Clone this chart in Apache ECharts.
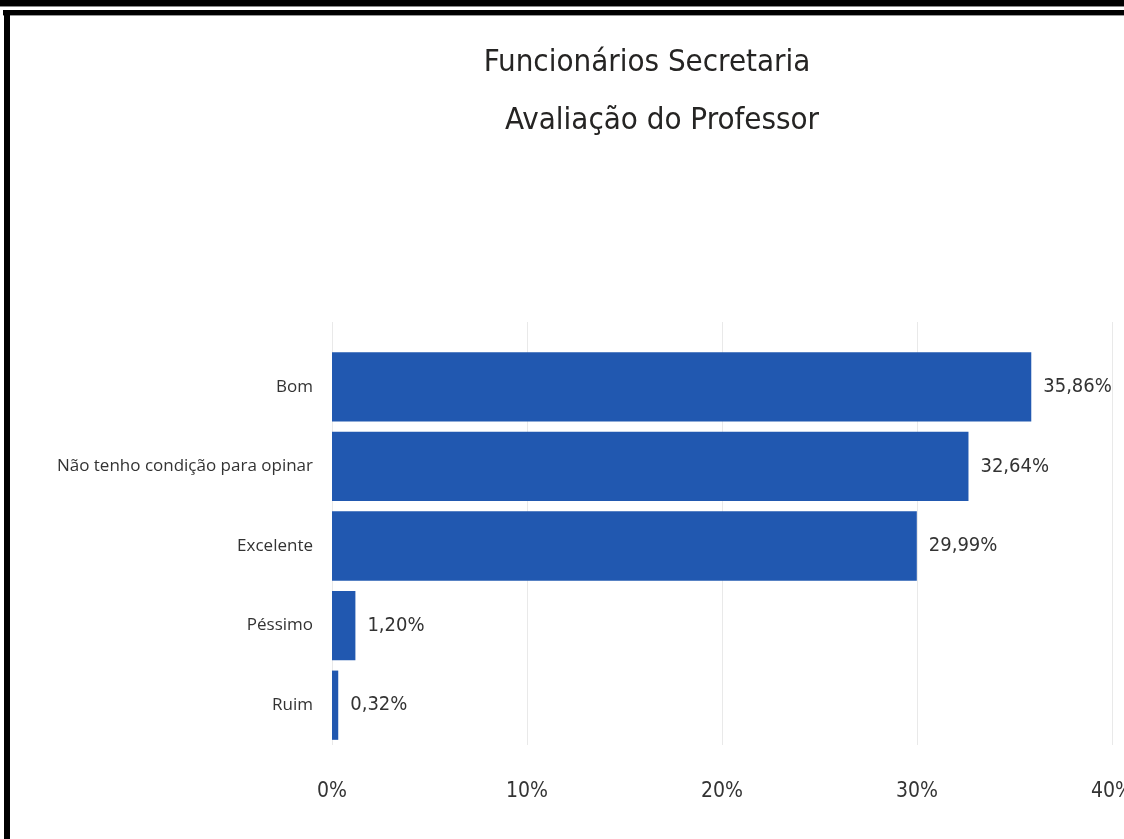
<!DOCTYPE html>
<html><head><meta charset="utf-8">
<script src="https://cdn.jsdelivr.net/npm/echarts@6/dist/echarts.min.js"></script>
<style>
html,body{margin:0;padding:0;background:#fff;}
#c{position:absolute;left:0;top:0;width:1124px;height:839px;}
.b{position:absolute;background:#000;}
</style></head><body>
<div id="c"></div>
<div class="b" style="left:0;top:0;width:1124px;height:6px;"></div>
<div class="b" style="left:0;top:6px;width:1124px;height:1px;background:#888;"></div>
<div class="b" style="left:3px;top:10px;width:1121px;height:5px;"></div>
<div class="b" style="left:3px;top:15px;width:1121px;height:1px;background:#999;"></div>
<div class="b" style="left:4px;top:10px;width:6px;height:829px;"></div>
<script>
const categories = ['Bom', 'Não tenho condição para opinar', 'Excelente', 'Péssimo', 'Ruim'];
const values = [35.86, 32.64, 29.99, 1.20, 0.32];
const titles = ['Funcionários Secretaria', 'Avaliação do Professor'];

const chart = echarts.init(document.getElementById('c'));
chart.setOption({
  backgroundColor: 'transparent',
  animation: false,
  title: [
    {text: titles[0], left: 642, top: 42, textAlign: 'center',
     textStyle: {fontFamily: 'DejaVu Sans Condensed', fontSize: 31, fontWeight: 'normal', color: '#252423'}},
    {text: titles[1], left: 657, top: 100, textAlign: 'center',
     textStyle: {fontFamily: 'DejaVu Sans Condensed', fontSize: 31, fontWeight: 'normal', color: '#252423'}}
  ],
  grid: [
    {left: 332, right: 12, top: 347, bottom: 94, outerBoundsMode: 'none'},
    {left: 332, right: 12, top: 322, bottom: 94, outerBoundsMode: 'none'}
  ],
  xAxis: [{
    type: 'value', min: 0, max: 40, interval: 10, gridIndex: 0,
    axisLine: {show: false}, axisTick: {show: false},
    splitLine: {show: false},
    axisLabel: {formatter: '{value}%', margin: 36, fontFamily: 'DejaVu Sans Condensed', fontSize: 21, color: '#333'}
  }, {
    type: 'value', min: 0, max: 40, interval: 10, gridIndex: 1,
    axisLine: {show: false}, axisTick: {show: false}, axisLabel: {show: false},
    splitLine: {lineStyle: {color: '#e9e9e9', width: 1}}
  }],
  yAxis: [{
    type: 'category', data: categories, inverse: true, gridIndex: 0,
    axisLine: {show: false}, axisTick: {show: false},
    axisLabel: {margin: 19, fontFamily: 'Open Sans', fontSize: 17, color: '#333'}
  }, {
    type: 'value', gridIndex: 1, show: false, splitLine: {show: false}
  }],
  series: [{
    type: 'bar', data: values, barCategoryGap: '13%', xAxisIndex: 0, yAxisIndex: 0,
    itemStyle: {color: '#2158b0'},
    label: {show: true, position: 'right', distance: 12, fontFamily: 'DejaVu Sans Condensed', fontSize: 20, color: '#333',
      formatter: p => p.value.toFixed(2).replace('.', ',') + '%'}
  }]
});
</script></body></html>
